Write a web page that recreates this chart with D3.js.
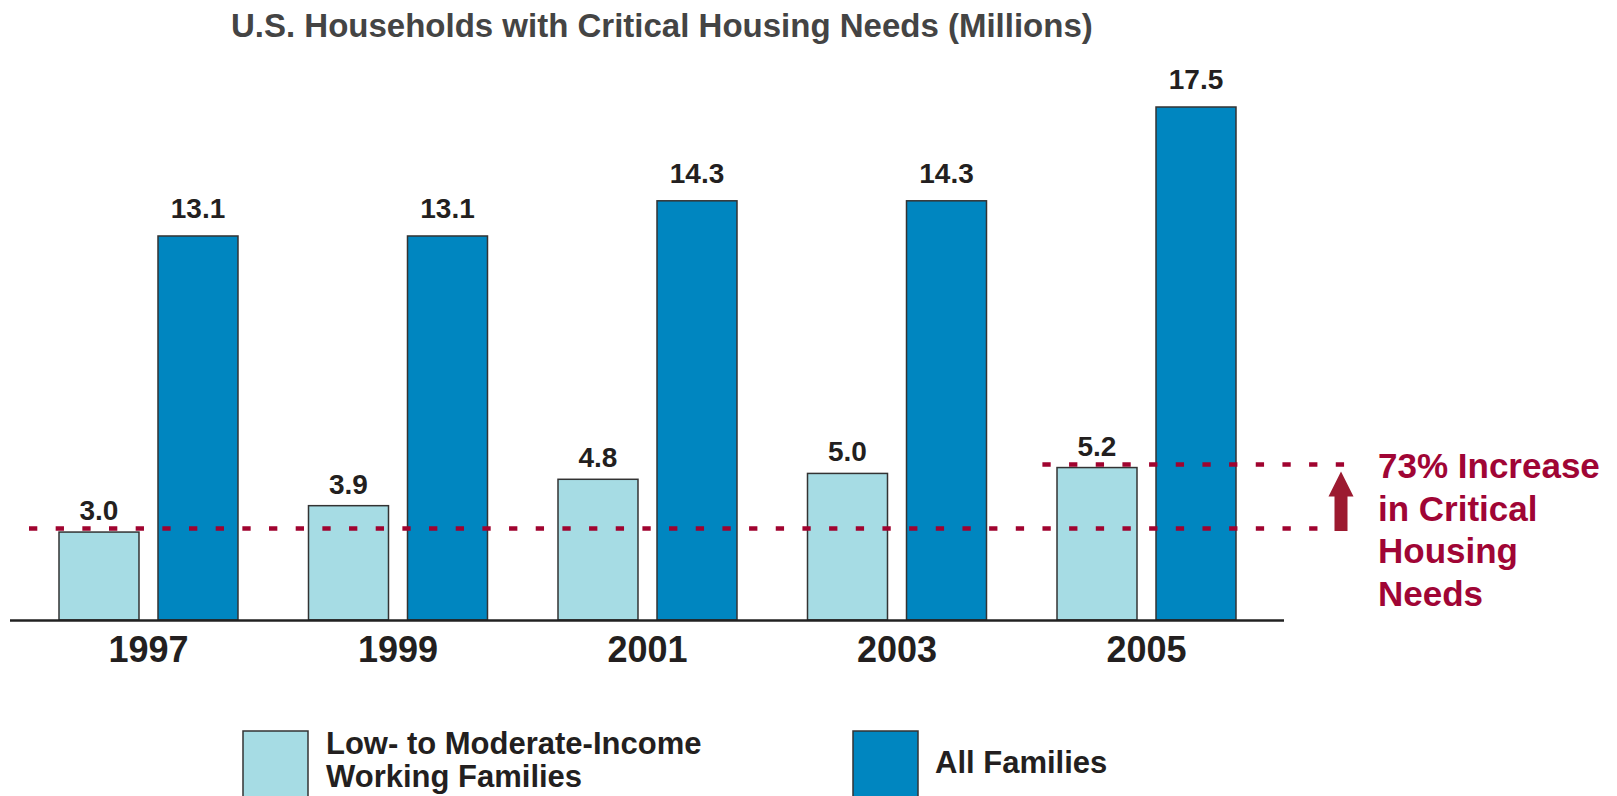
<!DOCTYPE html>
<html>
<head>
<meta charset="utf-8">
<script src="https://cdn.jsdelivr.net/npm/d3@7"></script>
<style>
  html, body { margin: 0; padding: 0; background: #fff; }
  svg { display: block; }
  text { font-family: "Liberation Sans", Arial, Helvetica, sans-serif; font-weight: bold; }
</style>
</head>
<body>
<svg id="chart" width="1617" height="796"></svg>
<script>
const chartTitle = "U.S. Households with Critical Housing Needs (Millions)";
const years = ["1997", "1999", "2001", "2003", "2005"];
const lowModerate = [3.0, 3.9, 4.8, 5.0, 5.2];
const allFamilies = [13.1, 13.1, 14.3, 14.3, 17.5];
const seriesKeys = ["low", "all"];
const seriesLabels = [["Low- to Moderate-Income", "Working Families"], ["All Families"]];
const increaseFrom = 3.0;
const increaseTo = 5.2;
const annotationLines = ["73% Increase", "in Critical", "Housing", "Needs"];

const colors = { low: "#a6dce4", all: "#0086c0" };
const labelOffset = { low: 12, all: 18 };
const red = "#a0032f";

const svg = d3.select("#chart");

const x = d3.scaleBand().domain(years).range([59, 1236]).paddingInner(0.2826).paddingOuter(0);
const xs = d3.scaleBand().domain(seriesKeys).range([0, x.bandwidth()]).paddingInner(0.192);
const y = d3.scaleLinear().domain([0, 17.5]).range([620, 107]);

const rows = years.map((yr, i) => ({ year: yr, low: lowModerate[i], all: allFamilies[i] }));

// Title
svg.append("text")
  .attr("x", 231).attr("y", 37)
  .attr("font-size", 33).attr("fill", "#444")
  .text(chartTitle);

// Bars
const groups = svg.append("g").selectAll("g").data(rows).join("g")
  .attr("transform", d => `translate(${x(d.year)},0)`);

groups.selectAll("rect").data(d => seriesKeys.map(k => ({ key: k, value: d[k] }))).join("rect")
  .attr("x", d => xs(d.key))
  .attr("y", d => y(d.value))
  .attr("width", xs.bandwidth())
  .attr("height", d => y(0) - y(d.value))
  .attr("fill", d => colors[d.key])
  .attr("stroke", "#333")
  .attr("stroke-width", 1.5);

groups.selectAll("text.val").data(d => seriesKeys.map(k => ({ key: k, value: d[k] }))).join("text")
  .attr("class", "val")
  .attr("x", d => xs(d.key) + xs.bandwidth() / 2)
  .attr("y", d => y(d.value) - labelOffset[d.key])
  .attr("text-anchor", "middle")
  .attr("font-size", 28)
  .attr("fill", "#231f20")
  .text(d => d3.format(".1f")(d.value));

// Baseline
svg.append("line")
  .attr("x1", 10).attr("x2", 1284)
  .attr("y1", y(0) + 0.5).attr("y2", y(0) + 0.5)
  .attr("stroke", "#222").attr("stroke-width", 2.5);

// X axis labels
const xAxis = d3.axisBottom(x).tickSize(0).tickPadding(0);
const axG = svg.append("g").attr("transform", `translate(0,${y(0)})`).call(xAxis);
axG.select(".domain").remove();
axG.selectAll("text")
  .attr("y", 42).attr("dy", null)
  .attr("font-size", 36)
  .attr("font-family", "\"Liberation Sans\", Arial, Helvetica, sans-serif")
  .attr("font-weight", "bold")
  .attr("fill", "#231f20");

// Dotted reference lines
const dash = "8.3 18.37";
svg.append("line")
  .attr("x1", 29).attr("x2", 1318)
  .attr("y1", y(increaseFrom) - 3.5).attr("y2", y(increaseFrom) - 3.5)
  .attr("stroke", red).attr("stroke-width", 4.5).attr("stroke-dasharray", dash);
svg.append("line")
  .attr("x1", 1042.4).attr("x2", 1345)
  .attr("y1", y(increaseTo) - 3).attr("y2", y(increaseTo) - 3)
  .attr("stroke", red).attr("stroke-width", 4.5).attr("stroke-dasharray", dash);

// Arrow
const ax = 1341;
const yBottom = y(increaseFrom) - 1;
const yTip = y(increaseTo) + 4;
const headBase = yTip + 25;
svg.append("path")
  .attr("d", `M${ax - 6.5},${yBottom} L${ax - 6.5},${headBase} L${ax - 12.5},${headBase} L${ax},${yTip} L${ax + 12.5},${headBase} L${ax + 6.5},${headBase} L${ax + 6.5},${yBottom} Z`)
  .attr("fill", "#9c1a30");

// Annotation text
const ann = svg.append("text")
  .attr("x", 1378).attr("y", 478)
  .attr("font-size", 35).attr("fill", "#a00535");
annotationLines.forEach((t, i) => {
  ann.append("tspan").attr("x", 1378).attr("y", 478 + i * 42.6).text(t);
});

// Legend
const legendPos = [{ sx: 243, tx: 326, ty: 754 }, { sx: 853, tx: 935, ty: 773 }];
seriesKeys.forEach((k, i) => {
  const p = legendPos[i];
  svg.append("rect")
    .attr("x", p.sx).attr("y", 731)
    .attr("width", 65).attr("height", 70)
    .attr("fill", colors[k]).attr("stroke", "#333").attr("stroke-width", 1.5);
  const t = svg.append("text").attr("font-size", 31).attr("fill", "#231f20");
  seriesLabels[i].forEach((line, j) => {
    t.append("tspan").attr("x", p.tx).attr("y", p.ty + j * 33).text(line);
  });
});
</script>
</body>
</html>
